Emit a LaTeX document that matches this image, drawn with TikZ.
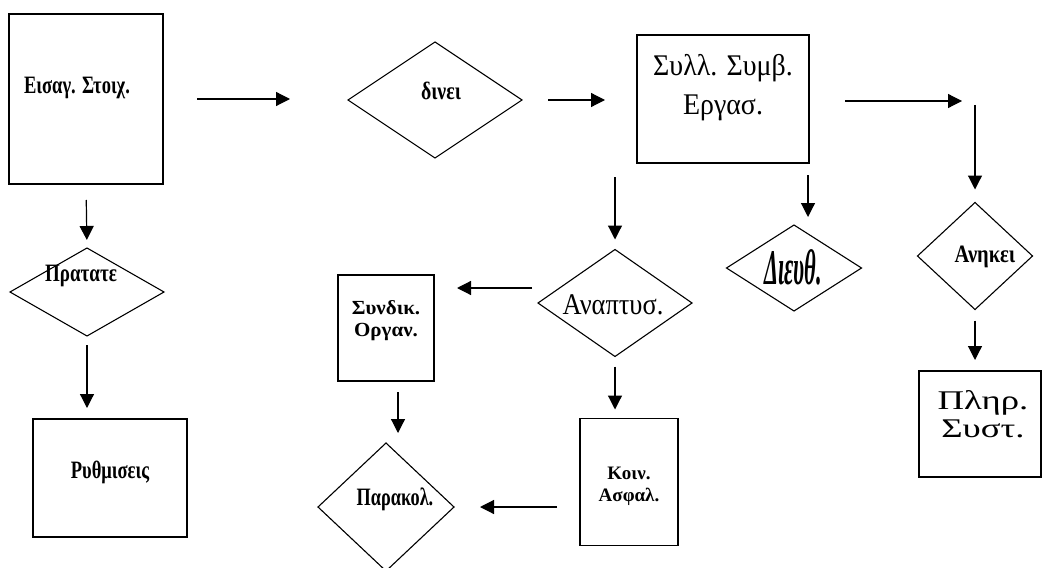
\documentclass[tikz,border=0pt]{standalone}
\usepackage{fontspec}
\setmainfont{Liberation Serif}
\usetikzlibrary{shapes.geometric,arrows.meta}

\tikzset{
  box/.style={draw, line width=1.2pt, inner sep=0pt, outer sep=0pt},
  decision/.style={draw, diamond, line width=1.1pt, inner sep=0pt, outer sep=0pt},
  arr/.style={line width=1.2pt, -{Triangle[length=14pt,width=14pt]}},
  lbl/.style={font=\bfseries\fontsize{25}{25}\selectfont, inner sep=0pt, align=center},
  bigtxt/.style={font=\fontsize{30}{39}\selectfont, inner sep=0pt, align=center}
}

\begin{document}
\begin{tikzpicture}[x=1pt,y=1pt,yscale=-1,xscale=1]
\useasboundingbox (0,0) rectangle (1043,567);

% Shape: Rectangle
\node [box, minimum width=154pt, minimum height=170pt] (eisag) at (86,99) {};
% Text Node
\node [lbl, xscale=0.74] (eisagT) at (77,88) {Εισαγ. Στοιχ.};
% Shape: Diamond
\node [decision, minimum width=174pt, minimum height=116pt] (dinei) at (435,100) {};
% Text Node
\node [lbl, xscale=0.79] (dineiT) at (441,91) {δινει};
% Shape: Rectangle
\node [box, minimum width=172pt, minimum height=128pt] (sull) at (723,99) {};
% Text Node
\node [bigtxt, xscale=0.93] (sullT) at (723,88) {Συλλ. Συμβ.\\Εργασ.};
% Shape: Diamond
\node [decision, minimum width=115pt, minimum height=107pt] (ankei) at (975,256) {};
% Text Node
\node [lbl, xscale=0.82] (ankeiT) at (985,257) {Ανηκει};
% Shape: Rectangle
\node [box, minimum width=122pt, minimum height=106pt] (pler) at (980,424) {};
% Text Node
\node [font=\fontsize{27}{28}\selectfont, inner sep=0pt, align=center, xscale=1.36] (plerT) at (983,414) {Πληρ.\\Συστ.};
% Shape: Diamond
\node [decision, minimum width=135pt, minimum height=86pt] (dieuth) at (794,268) {};
% Text Node
\node [font=\bfseries\itshape\fontsize{50}{50}\selectfont, inner sep=0pt, xscale=0.45] (dieuthT) at (793,267) {Διευθ.};
% Shape: Diamond
\node [decision, minimum width=154pt, minimum height=107pt] (anapt) at (615,303) {};
% Text Node
\node [bigtxt, xscale=0.88] (anaptT) at (613,305) {Αναπτυσ.};
% Shape: Rectangle
\node [box, minimum width=96pt, minimum height=106pt] (synd) at (386,328) {};
% Text Node
\node [font=\bfseries\fontsize{20}{22}\selectfont, inner sep=0pt, align=center, xscale=1.05] (syndT) at (386,321) {Συνδικ.\\Οργαν.};
% Shape: Rectangle
\node [box, minimum width=98pt, minimum height=127pt] (koin) at (629,482) {};
% Text Node
\node [font=\bfseries\fontsize{19}{22}\selectfont, inner sep=0pt, align=center] (koinT) at (629,486) {Κοιν.\\Ασφαλ.};
% Shape: Diamond
\node [decision, minimum width=136pt, minimum height=128pt] (parak) at (386,507) {};
% Text Node
\node [lbl, xscale=0.73] (parakT) at (395,499) {Παρακολ.};
% Shape: Diamond
\node [decision, minimum width=154pt, minimum height=88pt] (prat) at (87,292) {};
% Text Node
\node [lbl, xscale=0.76] (pratT) at (81,276) {Πρατατε};
% Shape: Rectangle
\node [box, minimum width=154pt, minimum height=118pt] (ruth) at (110,478) {};
% Text Node
\node [lbl, xscale=0.74] (ruthT) at (110,472) {Ρυθμισεις};

\coordinate (turn) at (962,101);

% Connection
\draw [arr, shorten <=34pt, shorten >=58pt] (eisag.east) -- (eisag.east -| dinei.west);
% Connection
\draw [arr, shorten <=26pt, shorten >=32pt] (dinei.east) -- (dinei.east -| sull.west);
% Connection
\draw [arr, shorten <=36pt] (sull.east |- turn) -- (turn);
% Connection
\draw [arr, shorten <=4pt, shorten >=13pt] (turn -| ankei.north) -- (ankei.north);
% Connection
\draw [arr, shorten <=11pt, shorten >=11pt] (ankei.south) -- (ankei.south |- pler.north);
% Connection
\draw [arr, shorten <=12pt, shorten >=8pt] ([xshift=85pt]sull.south) -- ([xshift=14pt]dieuth.north);
% Connection
\draw [arr, shorten <=14pt, shorten >=10pt] (anapt.north |- sull.south) -- (anapt.north);
% Connection
\draw [arr, shorten <=6pt, shorten >=23pt] ([yshift=-15pt]anapt.west) -- ([yshift=-15pt]anapt.west -| synd.east);
% Connection
\draw [arr, shorten <=10pt, shorten >=9pt] (anapt.south) -- (anapt.south |- koin.north);
% Connection
\draw [arr, shorten <=11pt, shorten >=10pt] ([xshift=12pt]synd.south) -- ([xshift=12pt]synd.south |- parak.north);
% Connection
\draw [arr, shorten <=23pt, shorten >=26pt] (koin.west |- parak.east) -- (parak.east);
% Connection
\draw [arr, shorten <=16pt, shorten >=8pt] (eisag.south) -- (prat.north);
% Connection
\draw [arr, shorten <=9pt, shorten >=11pt] (prat.south) -- (prat.south |- ruth.north);

\end{tikzpicture}
\end{document}
